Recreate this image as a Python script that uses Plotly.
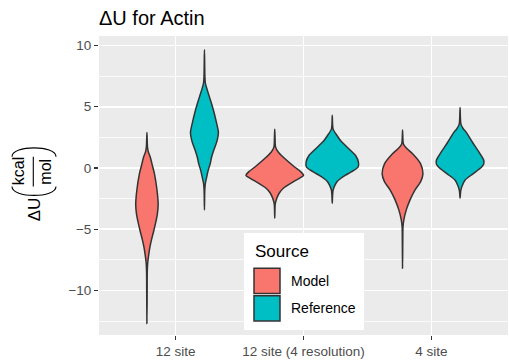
import plotly.graph_objects as go

# ---------------- data ----------------
categories = ["12 site", "12 site (4 resolution)", "4 site"]
sources = ["Model", "Reference"]
colors = {"Model": "#F8766D", "Reference": "#00BFC4"}

# Violin density profiles: y values (top -> bottom) and normalised half widths
model_12_y = [2.9, 2.2, 1.7, 1.3, 0.9, 0.2, -0.46, -1.8, -3.0, -3.8, -4.5, -5.2, -5.85, -6.5, -7.2, -7.8, -8.5, -10.0, -12.7]
model_12_w = [0.0, 0.01, 0.02, 0.05, 0.115, 0.19, 0.26, 0.35, 0.39, 0.36, 0.30, 0.23, 0.16, 0.10, 0.055, 0.025, 0.012, 0.008, 0.0]

ref_12_y = [9.64, 8.5, 7.5, 6.95, 6.5, 6.0, 5.3, 4.65, 3.58, 2.9, 2.23, 1.42, 0.9, 0.35, -0.2, -0.73, -1.27, -1.8, -3.42]
ref_12_w = [0.0, 0.008, 0.015, 0.03, 0.08, 0.146, 0.24, 0.32, 0.43, 0.486, 0.44, 0.32, 0.25, 0.20, 0.13, 0.08, 0.03, 0.012, 0.0]

model_124_y = [3.17, 2.5, 1.7, 1.3, 0.89, 0.08, -0.3, -0.6, -0.85, -1.13, -1.67, -2.0, -2.34, -2.7, -3.0, -4.1]
model_124_w = [0.0, 0.01, 0.03, 0.12, 0.29, 0.69, 0.9, 1.0, 0.85, 0.64, 0.29, 0.17, 0.094, 0.04, 0.015, 0.0]

ref_124_y = [4.3, 3.6, 3.17, 2.63, 2.2, 1.83, 1.4, 1.02, 0.48, 0.08, -0.32, -0.6, -0.86, -1.1, -1.4, -1.8, -2.2, -2.88]
ref_124_w = [0.0, 0.01, 0.03, 0.17, 0.3, 0.46, 0.65, 0.81, 0.91, 0.9, 0.66, 0.45, 0.29, 0.17, 0.094, 0.03, 0.012, 0.0]

model_4_y = [3.09, 2.5, 1.96, 1.6, 1.16, 0.35, -0.46, -1.13, -1.8, -2.6, -3.42, -4.23, -4.8, -6.0, -8.19]
model_4_w = [0.0, 0.01, 0.03, 0.14, 0.35, 0.625, 0.71, 0.625, 0.43, 0.26, 0.13, 0.045, 0.015, 0.008, 0.0]

ref_4_y = [4.93, 4.2, 3.58, 3.2, 2.91, 2.1, 1.29, 0.61, 0.3, 0.08, -0.46, -1.0, -1.53, -1.9, -2.48]
ref_4_w = [0.0, 0.01, 0.03, 0.11, 0.215, 0.43, 0.66, 0.826, 0.82, 0.75, 0.46, 0.17, 0.06, 0.02, 0.0]

violins = [
    (0, "Model", model_12_y, model_12_w),
    (0, "Reference", ref_12_y, ref_12_w),
    (1, "Model", model_124_y, model_124_w),
    (1, "Reference", ref_124_y, ref_124_w),
    (2, "Model", model_4_y, model_4_w),
    (2, "Reference", ref_4_y, ref_4_w),
]

y_ticks = [-10, -5, 0, 5, 10]

# ---------------- layout geometry ----------------
W, H = 509, 360
L, R, T, B = 99, 1, 36, 22
PW, PH = W - L - R, H - T - B
MAXHALF = 0.225  # half of dodged violin width (0.9 / 2 / 2)
DODGE = 0.225


def px(xp):
    return (xp - L) / PW


def py(yp):
    return (H - B - yp) / PH


fig = go.Figure()
for ci, src, ys, ws in violins:
    c = ci + 1 + (-DODGE if src == "Model" else DODGE)
    xr = [c + w * MAXHALF for w in ws]
    xl = [c - w * MAXHALF for w in ws]
    xs = xr + xl[-2::-1]
    yy = list(ys) + list(ys)[-2::-1]
    fig.add_trace(go.Scatter(
        x=xs, y=yy, mode="lines", fill="toself",
        fillcolor=colors[src],
        line=dict(color="#333333", width=1.5, shape="spline", smoothing=0.8),
        hoverinfo="skip", showlegend=False, name=src,
    ))

font_fam = "Liberation Sans, Arial, sans-serif"

fig.update_layout(
    width=W, height=H,
    margin=dict(l=L, r=R, t=T, b=B),
    paper_bgcolor="white",
    plot_bgcolor="#EBEBEB",
    font=dict(family=font_fam, color="#4D4D4D", size=14),
    showlegend=False,
    title=dict(text="ΔU for Actin", x=px(99), xref="paper", xanchor="left",
               y=1 - 18 / H, yref="container", yanchor="middle",
               font=dict(size=20, color="black", family=font_fam)),
    xaxis=dict(range=[0.4, 3.6], tickvals=[1, 2, 3], ticktext=categories,
               showgrid=True, gridcolor="white", gridwidth=1.6,
               zeroline=False, ticks="outside", ticklen=4, tickwidth=1.1,
               tickcolor="#333333", tickfont=dict(size=13.5, color="#4D4D4D"),
               showline=False, fixedrange=True),
    yaxis=dict(range=[-13.63, 10.77], tickvals=y_ticks,
               showgrid=True, gridcolor="white", gridwidth=1.6,
               minor=dict(dtick=2.5, tick0=0, showgrid=True, gridcolor="white", gridwidth=0.8),
               zeroline=False, ticks="outside", ticklen=4, tickwidth=1.1,
               tickcolor="#333333", tickfont=dict(size=13.5, color="#4D4D4D"),
               showline=False, fixedrange=True),
)

shapes = []
annotations = []

# ---- y-axis title: ΔU (kcal / mol) ----
annotations.append(dict(text="ΔU", x=px(34), y=py(211), xref="paper", yref="paper",
                        showarrow=False, textangle=-90, xanchor="center", yanchor="middle",
                        font=dict(size=17, color="black")))
annotations.append(dict(text="kcal", x=px(18.5), y=py(173), xref="paper", yref="paper",
                        showarrow=False, textangle=-90, xanchor="center", yanchor="middle",
                        font=dict(size=16, color="black")))
annotations.append(dict(text="mol", x=px(45.5), y=py(173.5), xref="paper", yref="paper",
                        showarrow=False, textangle=-90, xanchor="center", yanchor="middle",
                        font=dict(size=16, color="black")))
shapes.append(dict(type="line", xref="paper", yref="paper",
                   x0=px(33.3), x1=px(33.3), y0=py(158), y1=py(188),
                   line=dict(color="black", width=1.1)))
# parentheses
shapes.append(dict(type="path", xref="paper", yref="paper",
                   path=f"M {px(12)},{py(188)} C {px(12)},{py(200)} {px(56)},{py(200)} {px(56)},{py(188)}",
                   line=dict(color="black", width=1.1)))
shapes.append(dict(type="path", xref="paper", yref="paper",
                   path=f"M {px(12)},{py(158)} C {px(12)},{py(146)} {px(56)},{py(146)} {px(56)},{py(158)}",
                   line=dict(color="black", width=1.1)))

# ---- legend (drawn manually to match ggplot key sizes) ----
shapes.append(dict(type="rect", xref="paper", yref="paper",
                   x0=px(244), x1=px(364), y0=py(333), y1=py(235),
                   fillcolor="white", line=dict(width=0)))
annotations.append(dict(text="Source", x=px(253), y=py(253.5), xref="paper", yref="paper",
                        showarrow=False, xanchor="left", yanchor="middle",
                        font=dict(size=17, color="black")))
key_tops = [270.7, 298.3]
for src, top in zip(sources, key_tops):
    shapes.append(dict(type="rect", xref="paper", yref="paper",
                       x0=px(254), x1=px(280), y0=py(top + 25.5), y1=py(top),
                       fillcolor=colors[src], line=dict(color="#333333", width=1.5)))
    annotations.append(dict(text=src, x=px(289), y=py(top + 12.8), xref="paper", yref="paper",
                            showarrow=False, xanchor="left", yanchor="middle",
                            font=dict(size=14, color="black")))

fig.update_layout(shapes=shapes, annotations=annotations)

fig.write_html("out.html", config={"displayModeBar": False, "staticPlot": True},
               post_script="document.body.style.margin='0';document.body.style.overflow='hidden';")
